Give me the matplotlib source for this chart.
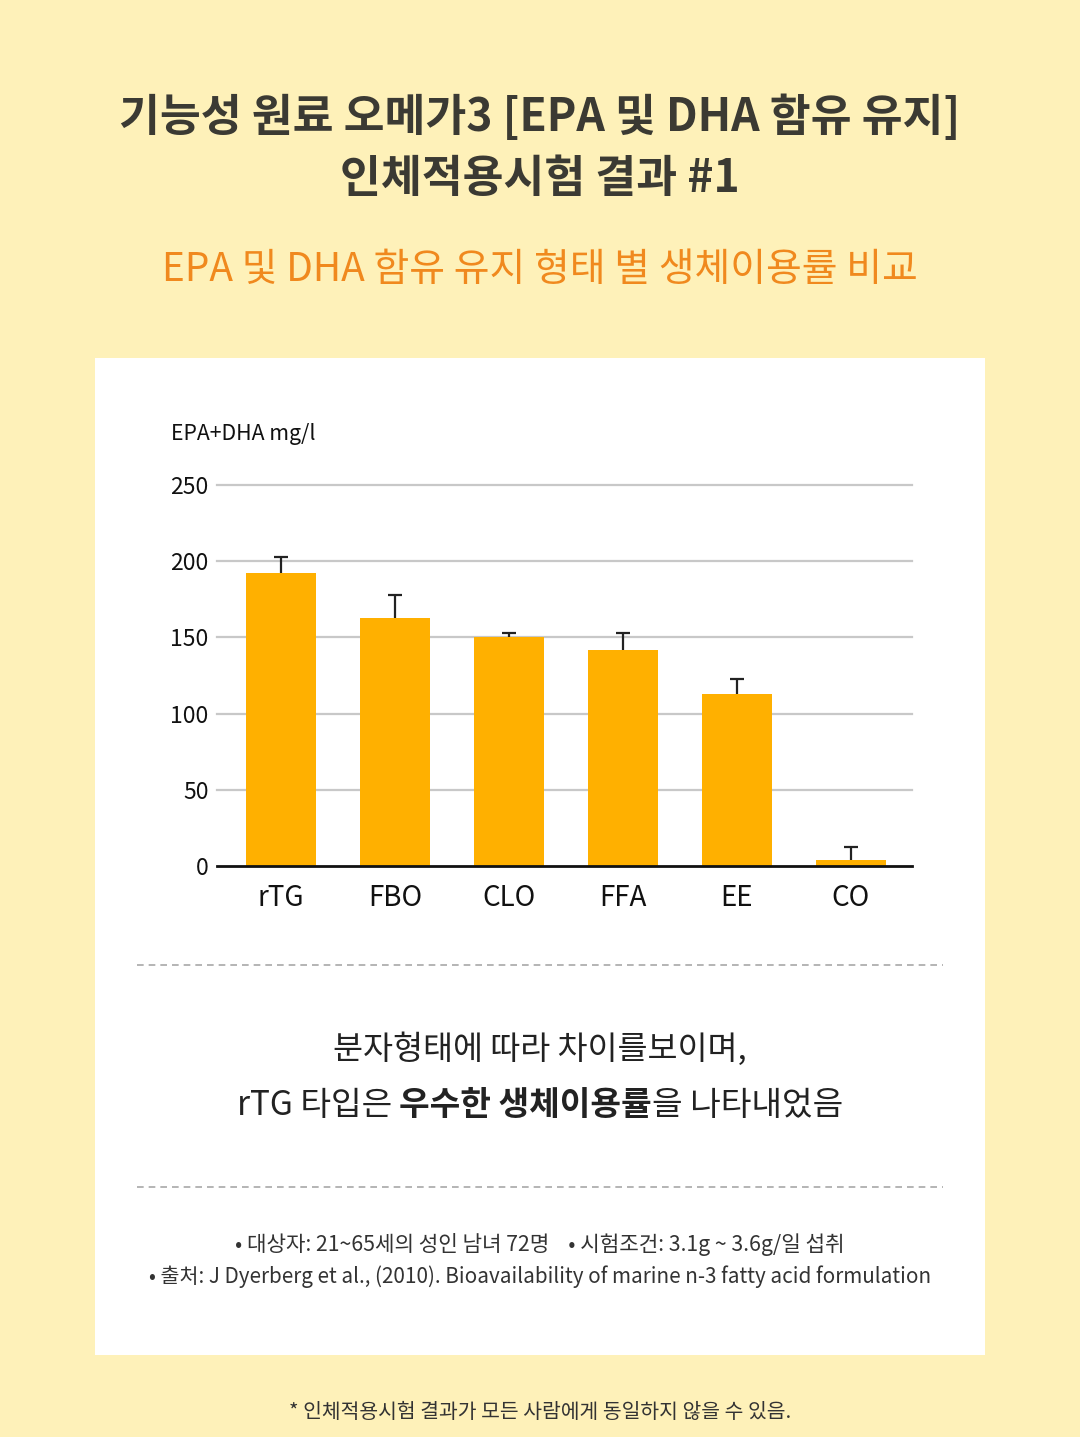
import matplotlib
matplotlib.use("Agg")
import matplotlib.pyplot as plt
from matplotlib.patches import Rectangle
from matplotlib.lines import Line2D

plt.rcParams['font.family'] = ['Noto Sans CJK KR', 'DejaVu Sans']

BG = "#FEF1B9"
BAR = "#FFB000"
DARK = "#3B3A33"
ORANGE = "#F0891E"

forms = ["rTG", "FBO", "CLO", "FFA", "EE", "CO"]
values = [192, 163, 150, 142, 113, 4]
errors = [11, 15, 3, 11, 10, 8.5]
yticks = [0, 50, 100, 150, 200, 250]

W, H = 1080, 1437
fig = plt.figure(figsize=(W / 100, H / 100), dpi=100)
fig.patch.set_facecolor(BG)


def fx(px):
    return px / W


def fy(py):
    return 1 - py / H


# white panel
fig.patches.append(Rectangle((fx(95), fy(1355)), fx(985) - fx(95), fy(358) - fy(1355),
                             transform=fig.transFigure, facecolor="white", edgecolor="none", zorder=-1))

fig.text(0.5, fy(118), "기능성 원료 오메가3 [EPA 및 DHA 함유 유지]", ha="center", va="center",
         fontsize=32, fontweight="bold", color=DARK)
fig.text(0.5, fy(179), "인체적용시험 결과 #1", ha="center", va="center",
         fontsize=32, fontweight="bold", color=DARK)
fig.text(0.5, fy(270), "EPA 및 DHA 함유 유지 형태 별 생체이용률 비교", ha="center", va="center",
         fontsize=28, fontweight="medium", color=ORANGE)

# chart
ax = fig.add_axes([fx(217), fy(866), fx(912) - fx(217), fy(485) - fy(866)])
ax.set_zorder(2)
ax.set_facecolor("white")
x = list(range(len(forms)))
ax.bar(x, values, width=0.61, color=BAR, zorder=2)
eb = ax.errorbar(x, values, yerr=[[0] * len(errors), errors], fmt="none", ecolor="#222222",
                 elinewidth=1.6, capsize=5, capthick=1.6, zorder=3)
eb[1][0].set_visible(False)
ax.set_xlim(-0.56, 5.535)
ax.set_ylim(0, 250)
ax.set_yticks(yticks)
ax.set_yticklabels([str(t) for t in yticks], fontsize=16.5, color="#111111")
ax.set_xticks(x)
ax.set_xticklabels(forms, fontsize=20, color="#111111")
ax.tick_params(axis="both", length=0)
ax.tick_params(axis="y", pad=6)
ax.tick_params(axis="x", pad=12)
for t in yticks[1:]:
    ax.axhline(t, color="#C8C8C8", lw=1.6, zorder=1, clip_on=False)
for s in ["top", "right", "left"]:
    ax.spines[s].set_visible(False)
ax.spines["bottom"].set_color("#111111")
ax.spines["bottom"].set_linewidth(2)
ax.spines["bottom"].set_zorder(4)

fig.text(fx(171), fy(434), "EPA+DHA mg/l", ha="left", va="center", fontsize=15.3, color="#111111")

# dashed separators
for py in (965, 1187):
    fig.lines.append(Line2D([fx(137), fx(943)], [fy(py), fy(py)], transform=fig.transFigure,
                            color="#A8A8A8", lw=1.2, linestyle=(0, (4, 3))))

fig.text(0.5, fy(1049), "분자형태에 따라 차이를보이며,", ha="center", va="center",
         fontsize=23.5, color="#222222")

# second line with bold part
parts = [("rTG 타입은 ", "normal"), ("우수한 생체이용률", "bold"), ("을 나타내었음", "normal")]
fig.canvas.draw()
renderer = fig.canvas.get_renderer()
texts = []
for s, w in parts:
    t = fig.text(0, fy(1106), s, ha="left", va="center", fontsize=24, fontweight=w, color="#222222")
    texts.append(t)
widths = [t.get_window_extent(renderer).width for t in texts]
start = (W - sum(widths)) / 2
for t, w in zip(texts, widths):
    t.set_x(start / W)
    start += w

fig.text(0.5, fy(1245), "• 대상자: 21~65세의 성인 남녀 72명    • 시험조건: 3.1g ~ 3.6g/일 섭취",
         ha="center", va="center", fontsize=15.3, color="#333333")
fig.text(0.5, fy(1277), "• 출처: J Dyerberg et al., (2010). Bioavailability of marine n-3 fatty acid formulation",
         ha="center", va="center", fontsize=14.9, color="#333333")

fig.text(0.5, fy(1413), "* 인체적용시험 결과가 모든 사람에게 동일하지 않을 수 있음.",
         ha="center", va="center", fontsize=14.7, color="#333333")

fig.savefig("out.png", dpi=100, facecolor=BG)
